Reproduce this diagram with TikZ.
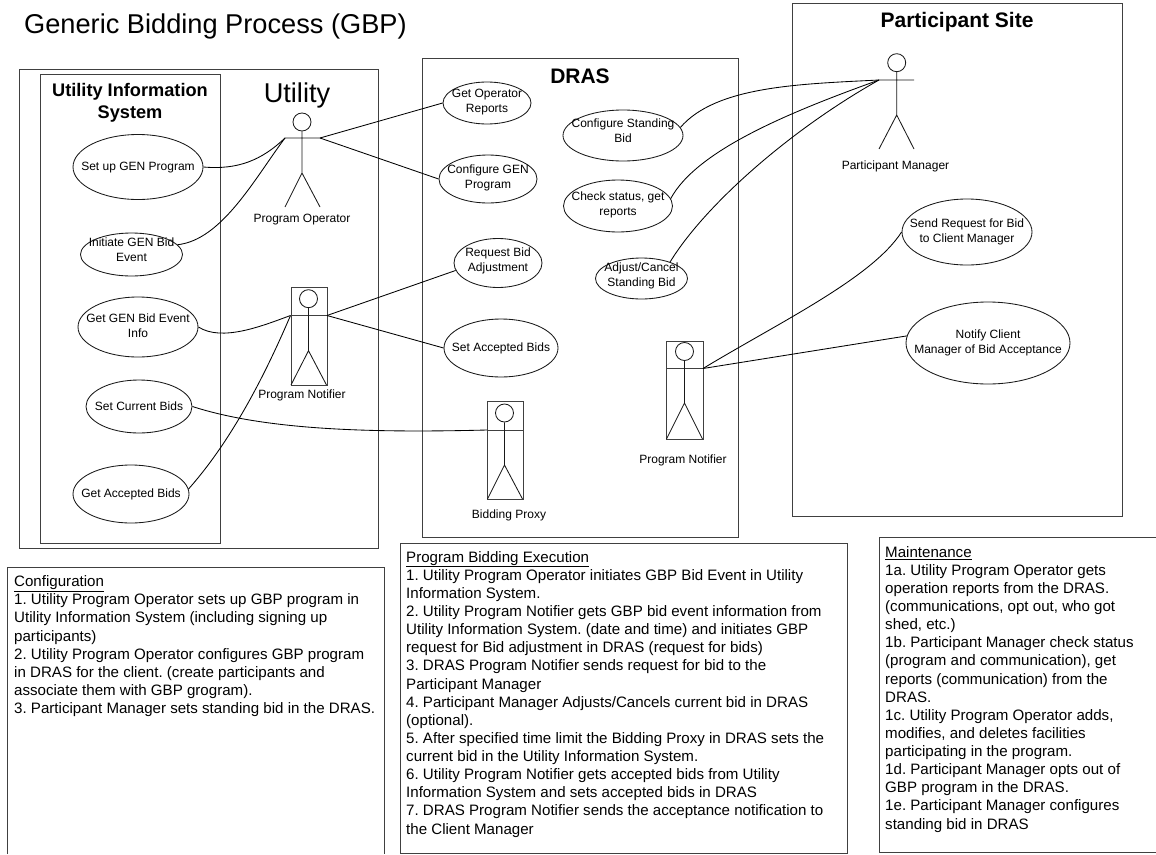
\documentclass[tikz,border=0pt]{standalone}
\usepackage{fontspec}
\setmainfont{Liberation Sans}
\usetikzlibrary{shapes.geometric}
\newcommand\fs[2]{\fontsize{#1}{#2}\selectfont}
% ellipse text that never widens the ellipse; #1 = lift in px
\newcommand\ut[2][0]{\makebox[0pt][c]{\raisebox{\dimexpr #1pt-0.32em\relax}[0pt][0pt]{\begin{tabular}{@{}c@{}}#2\end{tabular}}}}
\tikzset{
  x=1pt,y=-1pt,
  ln/.style={draw=black!90,line width=0.85pt},
  frame/.style={draw=black!75,line width=1pt},
  uc/.style={shape=ellipse,ln,fill=white,inner sep=0pt,font=\fs{12}{14.6}},
  lbl/.style={inner sep=0pt,font=\fs{12}{14.6}},
  head/.style={shape=circle,ln,inner sep=0pt,minimum size=18pt},
  title/.style={inner sep=0pt,anchor=center,align=center,font=\bfseries\fs{21}{24}},
  notes/.style={inner sep=0pt,anchor=north west,align=left,font=\frenchspacing\fs{15.1}{18.13}},
  conn/.style={draw=black,line width=0.85pt},
}
\begin{document}
\begin{tikzpicture}
\useasboundingbox (0,0) rectangle (1156,854);
\fill[white] (0,0) rectangle (1156,854);

% frames
\node[frame,minimum width=359.5pt,minimum height=479pt,inner sep=0pt,anchor=north west] (utility) at (18.5,69) {};
\node[frame,minimum width=180pt,minimum height=469pt,inner sep=0pt,anchor=north west] (uis) at (40,74) {};
\node[frame,minimum width=316pt,minimum height=479pt,inner sep=0pt,anchor=north west] (dras) at (421.5,58) {};
\node[frame,minimum width=330pt,minimum height=513pt,inner sep=0pt,anchor=north west] (site) at (792,3) {};
\draw[frame] (7.5,854) -- (7.5,567) -- (384,567) -- (384,854);
\node[frame,minimum width=447pt,minimum height=310pt,inner sep=0pt,anchor=north west] (execbox) at (400,543) {};
\draw[frame] (1156,537) -- (879.5,537) -- (879.5,852) -- (1156,852);

% titles
\node[inner sep=0pt,anchor=west,font=\fs{27.2}{30}] (main) at (24,26) {Generic Bidding Process (GBP)};
\node[title,font=\bfseries\fs{18.2}{22}] (uisT) at (130,103) {Utility Information\\System};
\node[inner sep=0pt,font=\fs{27.2}{30}] (utilT) at (297,95) {Utility};
\node[title] (drasT) at (580,76) {DRAS};
\node[title] (siteT) at (957,22) {Participant Site};

% use cases
\node[uc,minimum width=130pt,minimum height=65pt] (setup) at (138,167) {\ut{Set up GEN Program}};
\node[uc,minimum width=102pt,minimum height=43pt] (init) at (131.5,254.5) {\ut[4.5]{Initiate GEN Bid\\Event}};
\node[uc,minimum width=120pt,minimum height=60pt] (getinfo) at (138,327) {\ut[1]{Get GEN Bid Event\\Info}};
\node[uc,minimum width=106pt,minimum height=53pt] (setcur) at (139,406.5) {\ut{Set Current Bids}};
\node[uc,minimum width=116pt,minimum height=58pt] (getacc) at (131,494) {\ut{Get Accepted Bids}};
\node[uc,minimum width=88pt,minimum height=42pt] (getop) at (487,103) {\ut[2]{Get Operator\\Reports}};
\node[uc,minimum width=98pt,minimum height=48pt] (confgen) at (488,179) {\ut[1.5]{Configure GEN\\Program}};
\node[uc,minimum width=88pt,minimum height=49pt] (reqbid) at (498,263) {\ut[3]{Request Bid\\Adjustment}};
\node[uc,minimum width=114pt,minimum height=58pt] (setacc) at (501,348) {\ut{Set Accepted Bids}};
\node[uc,minimum width=120pt,minimum height=51pt] (confst) at (623,135.5) {\ut[4.5]{Configure Standing\\Bid}};
\node[uc,minimum width=109pt,minimum height=52pt] (check) at (618,206) {\ut[2]{Check status, get\\reports}};
\node[uc,minimum width=92pt,minimum height=41pt] (adjust) at (641.5,278.5) {\ut[3]{Adjust/Cancel\\Standing Bid}};
\node[uc,minimum width=130pt,minimum height=66pt] (sendreq) at (967,232) {\ut[0.5]{Send Request for Bid\\to Client Manager}};
\node[uc,minimum width=164pt,minimum height=82pt] (notify) at (988,343) {\ut[0.5]{Notify Client\\Manager of Bid Acceptance}};

% Program Operator
\node[head] (opH) at (302,122) {};
\coordinate (opL) at (285,138); \coordinate (opR) at (320,138);
\coordinate (opC) at (302,173); \coordinate (opFL) at (285,207); \coordinate (opFR) at (320,207);
\draw[ln] (opL) -- (opR) (opH) -- (opC) (opFL) -- (opC) -- (opFR);
\node[lbl] (opT) at (302,220) {Program Operator};

% Participant Manager
\node[head] (pmH) at (896.7,62.7) {};
\coordinate (pmL) at (879,80); \coordinate (pmR) at (914,80);
\coordinate (pmC) at (896.7,115); \coordinate (pmFL) at (879,149); \coordinate (pmFR) at (914,149);
\draw[ln] (pmL) -- (pmR) (pmH) -- (pmC) (pmFL) -- (pmC) -- (pmFR);
\node[lbl] (pmT) at (895.5,166) {Participant Manager};

% Program Notifier (Utility)
\node[frame,minimum width=36.5pt,minimum height=98pt,inner sep=0pt,anchor=north west] (unB) at (290.5,287) {};
\node[head] (unH) at (308.5,298.7) {};
\coordinate (unL) at (290.5,315.5); \coordinate (unR) at (327,315.5);
\coordinate (unC) at (308.5,350.7); \coordinate (unFL) at (291,385); \coordinate (unFR) at (326.5,385);
\draw[frame] (unL) -- (unR);
\draw[ln] (unH) -- (unC) (unFL) -- (unC) -- (unFR);
\node[lbl] (unT) at (302,395) {Program Notifier};

% Bidding Proxy
\node[frame,minimum width=36pt,minimum height=98pt,inner sep=0pt,anchor=north west] (bpB) at (487,401) {};
\node[head] (bpH) at (504.5,413) {};
\coordinate (bpL) at (487,430); \coordinate (bpR) at (523,430);
\coordinate (bpC) at (504.5,465); \coordinate (bpFL) at (487.5,499); \coordinate (bpFR) at (522.5,499);
\draw[frame] (bpL) -- (bpR);
\draw[ln] (bpH) -- (bpC) (bpFL) -- (bpC) -- (bpFR);
\node[lbl] (bpT) at (509,515) {Bidding Proxy};

% Program Notifier (DRAS)
\node[frame,minimum width=37pt,minimum height=98pt,inner sep=0pt,anchor=north west] (dnB) at (666,341) {};
\node[head] (dnH) at (684.5,351.5) {};
\coordinate (dnL) at (666,368.5); \coordinate (dnR) at (703,368.5);
\coordinate (dnC) at (684.5,403); \coordinate (dnFL) at (666.5,439); \coordinate (dnFR) at (702.5,439);
\draw[frame] (dnL) -- (dnR);
\draw[ln] (dnH) -- (dnC) (dnFL) -- (dnC) -- (dnFR);
\node[lbl] (dnT) at (683,460) {Program Notifier};

% connectors
\draw[conn] (setup.east) .. controls (238,170) and (262,160) .. (opL);
\draw[conn] (init.12) .. controls (222,240) and (255,178) .. (opL);
\draw[conn] (opR) -- (getop.west);
\draw[conn] (opR) -- (confgen.west);
\draw[conn] (getinfo.east) .. controls (222,342) and (262,326) .. (unL);
\draw[conn] (getacc.5) .. controls (232,440) and (265,375) .. (unL);
\draw[conn] (setcur.east) .. controls (265,430) and (370,433) .. (bpL);
\draw[conn] (unR) -- (reqbid.190);
\draw[conn] (unR) -- (setacc.west);
\draw[conn] (confst.8) .. controls (716,86) and (800,84) .. (pmL);
\draw[conn] (check.8) .. controls (697,150) and (790,112) .. (pmL);
\draw[conn] (adjust.30) .. controls (705,205) and (790,130) .. (pmL);
\draw[conn] (dnR) .. controls (780,322) and (872,278) .. (sendreq.west);
\draw[conn] (dnR) -- (notify.175);

% notes
\node[notes] (conf) at (14,575.5) {\underline{Configuration}\\
1. Utility Program Operator sets up GBP program in\\
Utility Information System (including signing up\\
participants)\\
2. Utility Program Operator configures GBP program\\
in DRAS for the client. (create participants and\\
associate them with GBP grogram).\\
3. Participant Manager sets standing bid in the DRAS.};
\node[notes] (exec) at (406,551) {\underline{Program Bidding Execution}\\
1. Utility Program Operator initiates GBP Bid Event in Utility\\
Information System.\\
2. Utility Program Notifier gets GBP bid event information from\\
Utility Information System. (date and time) and initiates GBP\\
request for Bid adjustment in DRAS (request for bids)\\
3. DRAS Program Notifier sends request for bid to the\\
Participant Manager\\
4. Participant Manager Adjusts/Cancels current bid in DRAS\\
(optional).\\
5. After specified time limit the Bidding Proxy in DRAS sets the\\
current bid in the Utility Information System.\\
6. Utility Program Notifier gets accepted bids from Utility\\
Information System and sets accepted bids in DRAS\\
7. DRAS Program Notifier sends the acceptance notification to\\
the Client Manager};
\node[notes] (maint) at (885,546) {\underline{Maintenance}\\
1a. Utility Program Operator gets\\
operation reports from the DRAS.\\
(communications, opt out, who got\\
shed, etc.)\\
1b. Participant Manager check status\\
(program and communication), get\\
reports (communication) from the\\
DRAS.\\
1c. Utility Program Operator adds,\\
modifies, and deletes facilities\\
participating in the program.\\
1d. Participant Manager opts out of\\
GBP program in the DRAS.\\
1e. Participant Manager configures\\
standing bid in DRAS};
\end{tikzpicture}
\end{document}
